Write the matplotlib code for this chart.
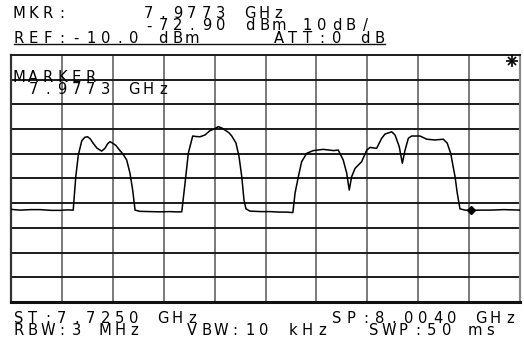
import matplotlib
matplotlib.use("Agg")
import matplotlib.pyplot as plt

# ----------------------- data -----------------------
start_ghz = 7.7250
stop_ghz = 8.0040
ref_dbm = -10.0
db_per_div = 10.0

freq_ghz = [
    7.7250, 7.7299, 7.7360, 7.7409, 7.7470, 7.7519, 7.7560, 7.7591,
    7.7605, 7.7619, 7.7638, 7.7655, 7.7670, 7.7685, 7.7699, 7.7721,
    7.7747, 7.7765, 7.7780, 7.7793, 7.7809, 7.7825, 7.7847, 7.7864,
    7.7884, 7.7902, 7.7917, 7.7930, 7.7957, 7.8010, 7.8067, 7.8120,
    7.8150, 7.8186, 7.8204, 7.8222, 7.8246, 7.8264, 7.8286, 7.8313,
    7.8341, 7.8363, 7.8386, 7.8407, 7.8423, 7.8445, 7.8460, 7.8483,
    7.8500, 7.8515, 7.8527, 7.8538, 7.8560, 7.8620, 7.8670, 7.8720,
    7.8760, 7.8795, 7.8807, 7.8825, 7.8843, 7.8871, 7.8907, 7.8962,
    7.9017, 7.9044, 7.9071, 7.9090, 7.9104, 7.9117, 7.9136, 7.9172,
    7.9200, 7.9218, 7.9254, 7.9282, 7.9300, 7.9337, 7.9355, 7.9378,
    7.9395, 7.9410, 7.9428, 7.9446, 7.9492, 7.9529, 7.9574, 7.9620,
    7.9641, 7.9660, 7.9684, 7.9696, 7.9711, 7.9739, 7.9773, 7.9820,
    7.9876, 7.9950, 8.0000, 8.0040,
]
level_dbm = [
    -72.5, -72.8, -72.6, -72.6, -72.9, -72.9, -72.7, -72.8,
    -59.3, -50.5, -44.7, -43.3, -43.1, -44.0, -45.6, -47.7,
    -48.9, -47.8, -45.9, -45.1, -45.8, -46.6, -48.7, -50.1,
    -52.5, -57.8, -64.7, -72.8, -73.3, -73.4, -73.5, -73.4,
    -73.5, -73.5, -61.9, -49.7, -42.8, -43.0, -43.1, -42.4,
    -40.6, -40.0, -39.0, -39.6, -40.4, -41.5, -42.8, -45.6,
    -51.2, -59.3, -68.7, -72.3, -73.2, -73.4, -73.4, -73.6,
    -73.6, -73.8, -65.9, -59.3, -53.2, -49.8, -48.7, -48.2,
    -48.7, -48.5, -52.5, -57.8, -64.7, -59.3, -55.9, -53.2,
    -48.5, -47.4, -47.8, -43.7, -42.0, -41.1, -42.4, -47.1,
    -53.8, -48.5, -43.7, -42.8, -42.8, -44.1, -44.4, -44.1,
    -45.7, -49.8, -59.3, -65.9, -72.3, -72.8, -72.9, -72.8,
    -72.8, -72.6, -72.7, -72.8,
]
marker_ghz = 7.9773
marker_dbm = -72.90

header_lines = [
    ("MKR:", 0, 0), ("7.9773 GHz", 9, 0),
    ("-72.90 dBm 10dB/", 9, 1),
    ("REF:-10.0 dBm", 0, 2), ("ATT:0 dB", 18, 2),
]
footer_lines = [
    ("ST:7.7250 GHz", 0, 0), ("SP:8.0040 GHz", 22, 0),
    ("RBW:3 MHz", 0, 1), ("VBW:10 kHz", 12, 1), ("SWP:50 ms", 24.6, 1),
]
marker_box = [("MARKER", 0, 0), ("7.9773 GHz", 1, 1)]

# ----------------------- layout (pixels) -----------------------
W, H = 524, 348
PLOT_L, PLOT_R, PLOT_T, PLOT_B = 11, 520, 55, 302
PITCH = 14.45      # character cell width of the instrument font
LINE = 12.3        # text line height
FS = 10.6


def put_mono(ax, x0, y_base, text, col):
    """Place characters one by one, centred in the instrument's fixed cells."""
    for i, ch in enumerate(text):
        if ch == " ":
            continue
        ax.text(x0 + (col + i) * PITCH + 4.5, y_base, ch, fontsize=FS,
                family="DejaVu Sans", ha="center", va="baseline", color="black")


fig = plt.figure(figsize=(W / 100, H / 100), dpi=100)
fig.patch.set_facecolor("white")

# screen grid area
ax = fig.add_axes([PLOT_L / W, 1 - PLOT_B / H, (PLOT_R - PLOT_L) / W,
                   (PLOT_B - PLOT_T) / H])
ax.set_xlim(start_ghz, stop_ghz)
ax.set_ylim(ref_dbm - 10 * db_per_div, ref_dbm)
step = (stop_ghz - start_ghz) / 10
for i in range(1, 10):
    ax.axvline(start_ghz + i * step, color="#7a7a7a", lw=1.4, zorder=1)
for i in range(1, 10):
    ax.axhline(ref_dbm - i * db_per_div, color="#1a1a1a", lw=1.4, zorder=1)
ax.set_xticks([])
ax.set_yticks([])
ax.spines["top"].set_color("#1a1a1a")
ax.spines["top"].set_linewidth(1.4)
ax.spines["left"].set_color("#333333")
ax.spines["left"].set_linewidth(1.6)
ax.spines["right"].set_color("#8a8a8a")
ax.spines["right"].set_linewidth(1.6)
ax.spines["bottom"].set_color("#111111")
ax.spines["bottom"].set_linewidth(2.2)

ax.plot(freq_ghz, level_dbm, color="black", lw=1.1, zorder=3)
ax.plot([marker_ghz], [marker_dbm], marker="D", ms=4.5, color="black", zorder=4)

# text overlay in pixel coordinates
tx = fig.add_axes([0, 0, 1, 1], facecolor="none")
tx.set_xlim(0, W)
tx.set_ylim(H, 0)
tx.axis("off")

for text, col, row in header_lines:
    put_mono(tx, 14, 18 + row * LINE, text, col)
tx.plot([14, 385], [43.5, 43.5], color="#111111", lw=1.0)

for text, col, row in marker_box:
    put_mono(tx, 14, 82 + row * LINE, text, col)

for text, col, row in footer_lines:
    put_mono(tx, 14, 323 + row * LINE, text, col)

# star at top right of the screen
tx.plot([512], [61], marker="+", ms=8, mew=1.2, color="black")
tx.plot([512], [61], marker="x", ms=6, mew=1.2, color="black")

fig.savefig("out.png", dpi=100)
